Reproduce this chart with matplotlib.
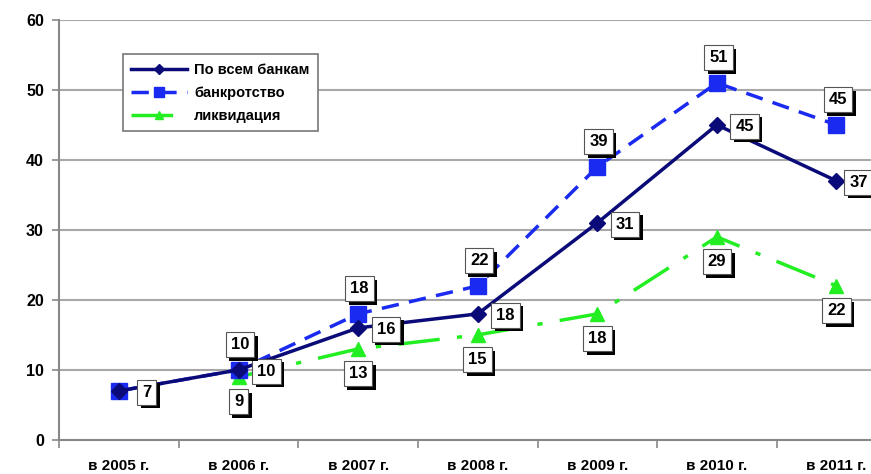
import numpy as np
import matplotlib
matplotlib.use("Agg")
from matplotlib import pyplot as plt
from matplotlib import patheffects as pe

plt.rcParams['font.family'] = ['Liberation Sans Narrow', 'Liberation Sans', 'DejaVu Sans']

# data
years = ["в 2005 г.", "в 2006 г.", "в 2007 г.", "в 2008 г.", "в 2009 г.", "в 2010 г.", "в 2011 г."]
all_banks = [7, 10, 16, 18, 31, 45, 37]
bankruptcy = [7, 10, 18, 22, 39, 51, 45]
liquidation = [np.nan, 9, 13, 15, 18, 29, 22]

x = np.arange(len(years))

fig = plt.figure(figsize=(8.71, 4.74), dpi=100)
ax = fig.add_axes([0.068, 0.072, 0.961, 0.886])

ax.plot(x, liquidation, color="#22ee22", lw=2.5, ls=(0, (12, 5, 1.5, 5)),
        marker="^", ms=10, label="ликвидация", zorder=3)
ax.plot(x, bankruptcy, color="#1a2af0", lw=2.5, ls=(0, (5, 3)),
        marker="s", ms=11, label="банкротство", zorder=4)
ax.plot(x, all_banks, color="#0a0a78", lw=2.5, marker="D", ms=8,
        label="По всем банкам", zorder=5)

shadow = [pe.withSimplePatchShadow(offset=(2.5, -2.5), shadow_rgbFace="black", alpha=1)]


def label(xi, yi, dx, dy):
    t = ax.annotate(str(yi), (xi, yi), xytext=(dx, dy), textcoords="offset points",
                    ha="center", va="center", fontsize=12, fontweight="bold",
                    bbox=dict(boxstyle="square,pad=0.3", fc="white", ec="#555555", lw=0.8),
                    zorder=10)
    t.get_bbox_patch().set_path_effects(shadow)


for i, v in enumerate(all_banks):
    dx = 16 if i == len(all_banks) - 1 else 20
    label(x[i], v, dx, -1)
for i, v in enumerate(bankruptcy):
    if i > 0:
        label(x[i], v, 1, 18)
for i, v in enumerate(liquidation):
    if not np.isnan(v):
        label(x[i], int(v), 0, -18)

ax.set_xlim(-0.5, 6.5)
ax.set_ylim(0, 60)
ax.set_yticks(range(0, 61, 10))
ax.yaxis.grid(True, color="#a8a8a8", lw=1.5)
ax.set_axisbelow(True)

ax.set_xticks(x)
ax.set_xticklabels(years, fontsize=11, fontweight="bold")
ax.set_xticks(np.arange(-0.5, 7, 1), minor=True)
ax.tick_params(axis="x", which="major", length=0, pad=14)
ax.tick_params(axis="x", which="minor", length=6, color="#888888", width=1.2)
ax.tick_params(axis="y", length=5, color="#888888", width=1.2, labelsize=11.5, pad=6)
for lab in ax.get_yticklabels():
    lab.set_fontweight("bold")

for s in ["top", "right"]:
    ax.spines[s].set_visible(False)
for s in ["left", "bottom"]:
    ax.spines[s].set_color("#888888")
    ax.spines[s].set_linewidth(1.5)

h, l = ax.get_legend_handles_labels()
leg = ax.legend(h[::-1], l[::-1], loc="upper left", bbox_to_anchor=(0.067, 0.935),
                fancybox=False, edgecolor="#777777", framealpha=1,
                prop={"weight": "bold", "size": 10.5}, handlelength=3.8,
                markerscale=0.6, labelspacing=0.6, borderpad=0.6, handletextpad=0.5)
leg.get_frame().set_linewidth(1.2)

fig.savefig("out.png", dpi=100)
